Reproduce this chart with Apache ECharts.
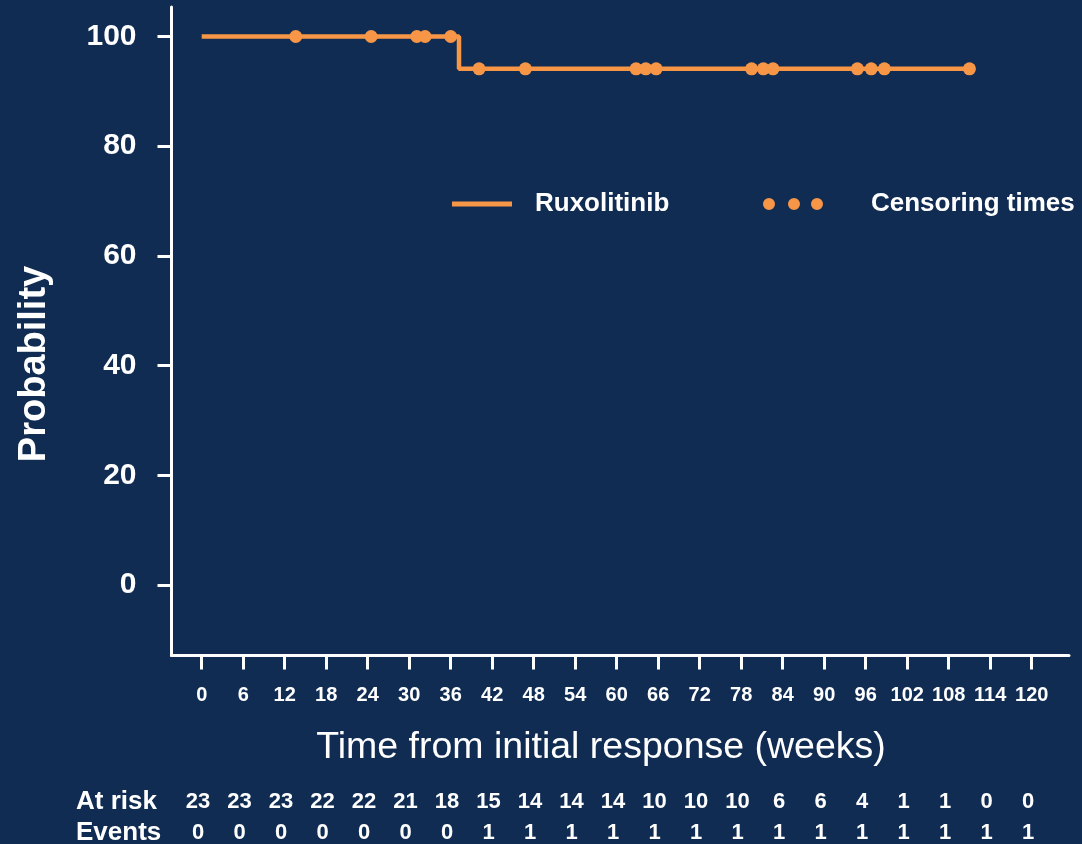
<!DOCTYPE html>
<html>
<head>
<meta charset="utf-8">
<script src="https://cdn.jsdelivr.net/npm/echarts@6/dist/echarts.min.js"></script>
<style>
  html, body { margin: 0; padding: 0; background: #102c52; }
  #chart { width: 1082px; height: 844px; }
</style>
</head>
<body>
<div id="chart"></div>
<script>
// KM curve (weeks, probability %)
const kmWeeks = [0, 37.2, 111]
const kmProb = [100, 94.1, 94.1]

// censoring marks
const censorWeeks = [13.6, 24.5, 31.1, 32.3, 36.0, 40.1, 46.8, 62.8, 64.2, 65.7, 79.5, 81.2, 82.6, 94.8, 96.8, 98.7, 111]
const censorProb = [100, 100, 100, 100, 100, 94.1, 94.1, 94.1, 94.1, 94.1, 94.1, 94.1, 94.1, 94.1, 94.1, 94.1, 94.1]

// risk table, one entry per 6-week tick
const xTicks = [0, 6, 12, 18, 24, 30, 36, 42, 48, 54, 60, 66, 72, 78, 84, 90, 96, 102, 108, 114, 120]
const atRisk = [23, 23, 23, 22, 22, 21, 18, 15, 14, 14, 14, 10, 10, 10, 6, 6, 4, 1, 1, 0, 0]
const events = [0, 0, 0, 0, 0, 0, 0, 1, 1, 1, 1, 1, 1, 1, 1, 1, 1, 1, 1, 1, 1]

const yTicks = [0, 20, 40, 60, 80, 100]

const orange = '#f79646'
const white = '#ffffff'
const FONT = '"Liberation Sans", Arial, sans-serif'

const chart = echarts.init(document.getElementById('chart'))

const rowLabel = (arr) => (v) => {
  const i = xTicks.indexOf(Math.round(v))
  return i >= 0 ? String(arr[i]) : ''
}

const hidden = {
  axisLine: { show: false }, axisTick: { show: false },
  axisLabel: { show: false }, splitLine: { show: false }
}
const tickX = (grid) => ({
  gridIndex: grid, type: 'value', min: xTicks[0], max: xTicks[xTicks.length - 1], interval: 6
})

const option = {
  backgroundColor: '#102c52',
  animation: false,
  textStyle: { fontFamily: FONT },
  grid: [
    // 0 frame lines
    { left: 171.5, right: 13, top: 7, bottom: 188.5, outerBoundsMode: 'none' },
    // 1 data area
    { left: 201.7, right: 50.3, top: 36.5, bottom: 259, outerBoundsMode: 'none' },
    // 2 x ticks on the frame line
    { left: 201.7, right: 50.3, top: 7, bottom: 188.5, outerBoundsMode: 'none' },
    // 3 y ticks on the frame line
    { left: 171.5, right: 50.3, top: 36.5, bottom: 259, outerBoundsMode: 'none' },
    // 4 at risk row
    { left: 198, right: 54, top: 7, bottom: 57.5, outerBoundsMode: 'none' },
    // 5 events row
    { left: 198, right: 54, top: 7, bottom: 26.5, outerBoundsMode: 'none' }
  ],
  legend: [
    {
      data: [{ name: 'Ruxolitinib', icon: 'path://M0,0H60V5H0Z' }],
      left: 452,
      top: 191,
      padding: 0,
      itemWidth: 60,
      itemHeight: 5,
      selectedMode: false,
      textStyle: { color: white, fontSize: 26, fontWeight: 'bold', fontFamily: FONT, padding: [0, 0, 0, 18] }
    },
    {
      data: [{
        name: 'Censoring times',
        icon: 'path://M0,6a6,6 0 1,0 12,0a6,6 0 1,0 -12,0M25,6a6,6 0 1,0 12,0a6,6 0 1,0 -12,0M48,6a6,6 0 1,0 12,0a6,6 0 1,0 -12,0'
      }],
      left: 763,
      top: 191,
      padding: 0,
      itemWidth: 60,
      itemHeight: 12,
      selectedMode: false,
      textStyle: { color: white, fontSize: 26, fontWeight: 'bold', fontFamily: FONT, padding: [0, 0, 0, 43] }
    }
  ],
  xAxis: [
    {
      gridIndex: 0, type: 'value', min: 0, max: 1,
      axisLine: { show: true, lineStyle: { color: white, width: 3 } },
      axisTick: { show: false }, axisLabel: { show: false }, splitLine: { show: false }
    },
    Object.assign(tickX(1), hidden),
    Object.assign(tickX(2), {
      axisLine: { show: false },
      axisTick: { show: true, length: 14, lineStyle: { color: white, width: 3 } },
      axisLabel: { color: white, fontSize: 20, fontWeight: 'bold', fontFamily: FONT, margin: 30 },
      splitLine: { show: false }
    }),
    { gridIndex: 3, type: 'value', min: 0, max: 1, ...hidden },
    Object.assign(tickX(4), {
      axisLine: { show: false }, axisTick: { show: false }, splitLine: { show: false },
      axisLabel: { color: white, fontSize: 22, fontWeight: 'bold', fontFamily: FONT, margin: 4, formatter: rowLabel(atRisk) }
    }),
    Object.assign(tickX(5), {
      axisLine: { show: false }, axisTick: { show: false }, splitLine: { show: false },
      axisLabel: { color: white, fontSize: 22, fontWeight: 'bold', fontFamily: FONT, margin: 4, formatter: rowLabel(events) }
    })
  ],
  yAxis: [
    {
      gridIndex: 0, type: 'value', min: 0, max: 1,
      axisLine: { show: true, lineStyle: { color: white, width: 3 } },
      axisTick: { show: false }, axisLabel: { show: false }, splitLine: { show: false }
    },
    { gridIndex: 1, type: 'value', min: yTicks[0], max: yTicks[yTicks.length - 1], ...hidden },
    { gridIndex: 2, type: 'value', min: 0, max: 1, ...hidden },
    {
      gridIndex: 3, type: 'value', min: yTicks[0], max: yTicks[yTicks.length - 1], interval: 20,
      axisLine: { show: false },
      axisTick: { show: true, length: 14, lineStyle: { color: white, width: 3 } },
      axisLabel: { color: white, fontSize: 30, fontWeight: 'bold', fontFamily: FONT, margin: 35 },
      splitLine: { show: false }
    },
    { gridIndex: 4, type: 'value', min: 0, max: 1, ...hidden },
    { gridIndex: 5, type: 'value', min: 0, max: 1, ...hidden }
  ],
  graphic: [
    {
      type: 'text', x: 35, y: 364, rotation: Math.PI / 2,
      style: { text: 'Probability', fill: white, font: 'bold 38px ' + FONT, align: 'center', verticalAlign: 'middle' }
    },
    {
      type: 'text', x: 601, y: 748,
      style: { text: 'Time from initial response (weeks)', fill: white, font: '37.5px ' + FONT, align: 'center', verticalAlign: 'middle' }
    },
    {
      type: 'text', x: 76, y: 802,
      style: { text: 'At risk', fill: white, font: 'bold 26px ' + FONT, align: 'left', verticalAlign: 'middle' }
    },
    {
      type: 'text', x: 76, y: 833,
      style: { text: 'Events', fill: white, font: 'bold 26px ' + FONT, align: 'left', verticalAlign: 'middle' }
    }
  ],
  series: [
    {
      name: 'Ruxolitinib',
      type: 'line',
      xAxisIndex: 1,
      yAxisIndex: 1,
      step: 'end',
      data: kmWeeks.map((w, i) => [w, kmProb[i]]),
      showSymbol: false,
      clip: false,
      lineStyle: { color: orange, width: 4.5 },
      itemStyle: { color: orange }
    },
    {
      name: 'Censoring times',
      type: 'scatter',
      xAxisIndex: 1,
      yAxisIndex: 1,
      data: censorWeeks.map((w, i) => [w, censorProb[i]]),
      symbolSize: 13,
      clip: false,
      itemStyle: { color: orange, opacity: 1 },
      z: 3
    }
  ]
}

chart.setOption(option)
</script>
</body>
</html>
